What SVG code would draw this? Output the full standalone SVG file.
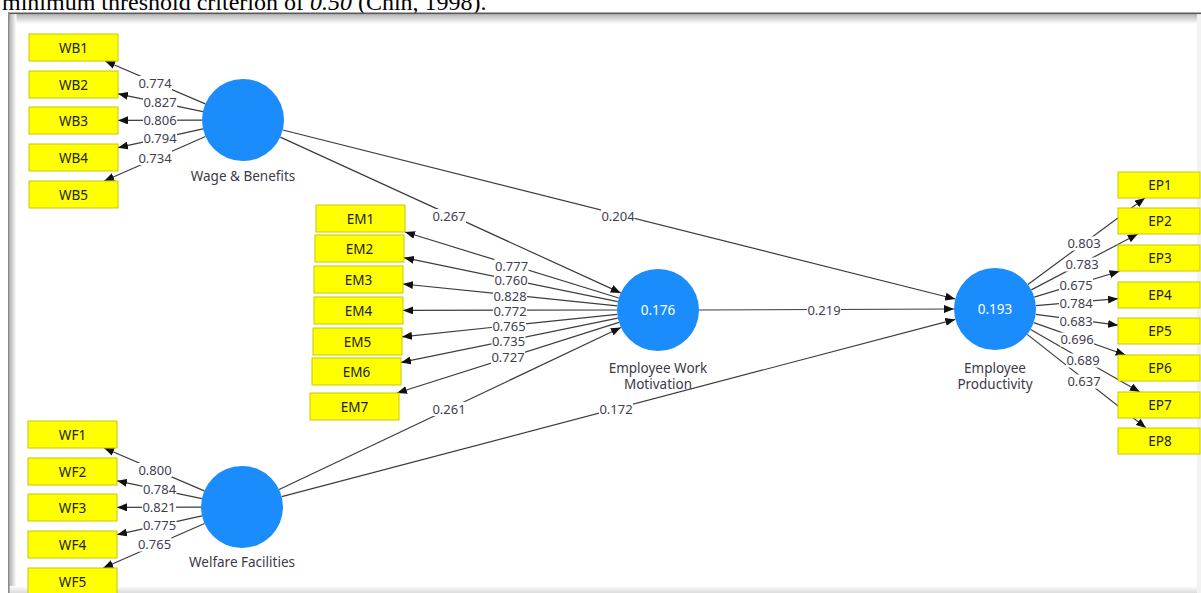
<svg xmlns="http://www.w3.org/2000/svg" width="1201" height="593" viewBox="0 0 1201 593">
  <defs>
    <style>
      .ind rect { fill: #ffff00; stroke: #c8c800; stroke-width: 1; }
      .ind text { font-family: "Noto Sans", "Open Sans", sans-serif; font-size: 13.5px; fill: #222; text-anchor: middle; }
      .lv circle { fill: #1a8cfc; }
      .lv .r2 { font-family: "Noto Sans", "Open Sans", sans-serif; font-size: 13.5px; fill: #ffffff; text-anchor: middle; }
      .lv .name { font-family: "Noto Sans", "Open Sans", sans-serif; font-size: 13.5px; fill: #3a3a48; text-anchor: middle; }
      .edge line { stroke: #3c3c3c; stroke-width: 1.2; marker-end: url(#head); }
      .lbl rect { fill: #ffffff; }
      .lbl text { font-family: "Noto Sans", "Open Sans", sans-serif; font-size: 13px; fill: #3e3e52; text-anchor: middle; }
    </style>
    <marker id="head" viewBox="0 0 10 8" refX="10" refY="4" markerWidth="10" markerHeight="8" markerUnits="userSpaceOnUse" orient="auto">
      <path d="M0,0 L10,4 L0,8 z" fill="#111"/>
    </marker>
    <linearGradient id="shTop" x1="0" y1="0" x2="0" y2="1">
      <stop offset="0" stop-color="#b4b4b4"/>
      <stop offset="1" stop-color="#ffffff"/>
    </linearGradient>
    <linearGradient id="shLeft" x1="0" y1="0" x2="1" y2="0">
      <stop offset="0" stop-color="#b4b4b4"/>
      <stop offset="1" stop-color="#ffffff"/>
    </linearGradient>
    <linearGradient id="shBottom" x1="0" y1="0" x2="0" y2="1">
      <stop offset="0" stop-color="#ffffff"/>
      <stop offset="1" stop-color="#dcdcdc"/>
    </linearGradient>
  </defs>

  <rect x="0" y="0" width="1201" height="593" fill="#ffffff"/>

  <!-- running text of the page above the figure -->
  <text x="2" y="9.5" font-family="Liberation Serif, serif" font-size="24" fill="#000">minimum threshold criterion of <tspan font-style="italic">0.50</tspan> (Chin, 1998).</text>

  <!-- window frame around the model -->
  <g id="frame">
    <rect x="8" y="14" width="1193" height="10" fill="url(#shTop)"/>
    <rect x="9.5" y="14" width="7" height="579" fill="url(#shLeft)"/>
    <rect x="8" y="586" width="1193" height="7" fill="url(#shBottom)"/>
    <rect x="1197" y="14" width="4" height="579" fill="#f2f2f2"/>
    <rect x="8" y="12.5" width="1193" height="1.6" fill="#5a5a5a"/>
    <rect x="8" y="12.5" width="1.6" height="581" fill="#8a8a8a"/>
  </g>

  <!-- connectors: outer loadings and structural paths -->
  <g id="connectors">
    <g class="edge">
      <!-- Wage & Benefits -> WB items -->
      <line x1="205.3" y1="103.9" x2="105.1" y2="61"/>
      <line x1="202.9" y1="111.6" x2="118" y2="93.8"/>
      <line x1="202" y1="120.1" x2="118" y2="120.4"/>
      <line x1="203" y1="128.9" x2="118" y2="147.7"/>
      <line x1="205.5" y1="136.5" x2="104.2" y2="181"/>
      <!-- Welfare Facilities -> WF items -->
      <line x1="204.3" y1="490.9" x2="104.1" y2="448"/>
      <line x1="201.9" y1="498.6" x2="117" y2="480.8"/>
      <line x1="201" y1="507.1" x2="117" y2="507.4"/>
      <line x1="202" y1="515.9" x2="117" y2="534.7"/>
      <line x1="204.5" y1="523.5" x2="103.2" y2="568"/>
      <!-- Employee Work Motivation -> EM items -->
      <line x1="618.8" y1="298" x2="405" y2="232"/>
      <line x1="617.8" y1="301.7" x2="404" y2="257.7"/>
      <line x1="617.2" y1="305.8" x2="403" y2="284"/>
      <line x1="617" y1="310" x2="403" y2="310.4"/>
      <line x1="617.2" y1="314.3" x2="402" y2="336.8"/>
      <line x1="617.8" y1="318.2" x2="401" y2="362.4"/>
      <line x1="618.9" y1="322.4" x2="397" y2="393"/>
      <!-- Employee Productivity -> EP items -->
      <line x1="1027.9" y1="284.6" x2="1144.9" y2="198"/>
      <line x1="1031.3" y1="289.9" x2="1137.8" y2="234"/>
      <line x1="1034.2" y1="297.1" x2="1119.5" y2="271.2"/>
      <line x1="1035.9" y1="305.6" x2="1118" y2="298.7"/>
      <line x1="1035.7" y1="314.3" x2="1118" y2="325.2"/>
      <line x1="1033.7" y1="322.6" x2="1125.6" y2="355"/>
      <line x1="1030.6" y1="329.4" x2="1139.8" y2="392"/>
      <line x1="1027.2" y1="334.4" x2="1146" y2="428"/>
      <!-- structural paths -->
      <line x1="280.3" y1="137.1" x2="620.7" y2="292.9"/>
      <line x1="282.8" y1="130" x2="955.2" y2="299"/>
      <line x1="699" y1="310" x2="954" y2="309"/>
      <line x1="279.1" y1="489.5" x2="620.9" y2="327.5"/>
      <line x1="281.7" y1="496.6" x2="955.3" y2="319.4"/>
    </g>
    <g class="lbl">
      <rect x="138" y="76" width="34" height="14"/><text x="155" y="87.5">0.774</text>
      <rect x="143" y="95.5" width="34" height="14"/><text x="160" y="107">0.827</text>
      <rect x="143" y="113" width="34" height="14"/><text x="160" y="124.5">0.806</text>
      <rect x="143" y="131.5" width="34" height="14"/><text x="160" y="143">0.794</text>
      <rect x="138" y="151" width="34" height="14"/><text x="155" y="162.5">0.734</text>

      <rect x="138" y="463" width="34" height="14"/><text x="155" y="474.5">0.800</text>
      <rect x="142.5" y="482.5" width="34" height="14"/><text x="159.5" y="494">0.784</text>
      <rect x="142" y="500" width="34" height="14"/><text x="159" y="511.5">0.821</text>
      <rect x="142.5" y="518" width="34" height="14"/><text x="159.5" y="529.5">0.775</text>
      <rect x="137.5" y="537.5" width="34" height="14"/><text x="154.5" y="549">0.765</text>

      <rect x="494.5" y="259" width="34" height="14"/><text x="511.5" y="270.5">0.777</text>
      <rect x="494" y="273.5" width="34" height="14"/><text x="511" y="285">0.760</text>
      <rect x="493" y="289" width="34" height="14"/><text x="510" y="300.5">0.828</text>
      <rect x="493" y="304" width="34" height="14"/><text x="510" y="315.5">0.772</text>
      <rect x="492" y="319" width="34" height="14"/><text x="509" y="330.5">0.765</text>
      <rect x="491.5" y="334" width="34" height="14"/><text x="508.5" y="345.5">0.735</text>
      <rect x="491" y="350" width="34" height="14"/><text x="508" y="361.5">0.727</text>

      <rect x="1067" y="236.5" width="34" height="14"/><text x="1084" y="248">0.803</text>
      <rect x="1065" y="257.5" width="34" height="14"/><text x="1082" y="269">0.783</text>
      <rect x="1059" y="278.5" width="34" height="14"/><text x="1076" y="290">0.675</text>
      <rect x="1059" y="296.5" width="34" height="14"/><text x="1076" y="308">0.784</text>
      <rect x="1059" y="314" width="34" height="14"/><text x="1076" y="325.5">0.683</text>
      <rect x="1060" y="332.5" width="34" height="14"/><text x="1077" y="344">0.696</text>
      <rect x="1066" y="353.5" width="34" height="14"/><text x="1083" y="365">0.689</text>
      <rect x="1067" y="374.5" width="34" height="14"/><text x="1084" y="386">0.637</text>

      <rect x="432" y="209" width="34" height="14"/><text x="449" y="220.5">0.267</text>
      <rect x="601" y="209" width="34" height="14"/><text x="618" y="220.5">0.204</text>
      <rect x="807" y="303" width="34" height="14"/><text x="824" y="314.5">0.219</text>
      <rect x="432" y="402" width="34" height="14"/><text x="449" y="413.5">0.261</text>
      <rect x="599" y="402" width="34" height="14"/><text x="616" y="413.5">0.172</text>
    </g>
  </g>

  <!-- latent variables -->
  <g id="wage-benefits" class="lv">
    <circle cx="243" cy="120" r="41"/>
    <text class="name" x="243" y="181">Wage &amp; Benefits</text>
  </g>
  <g id="welfare-facilities" class="lv">
    <circle cx="242" cy="507" r="41"/>
    <text class="name" x="242" y="567">Welfare Facilities</text>
  </g>
  <g id="work-motivation" class="lv">
    <circle cx="658" cy="310" r="41"/>
    <text class="r2" x="658" y="314.5">0.176</text>
    <text class="name" x="658" y="373">Employee Work</text>
    <text class="name" x="658" y="389">Motivation</text>
  </g>
  <g id="productivity" class="lv">
    <circle cx="995" cy="309" r="41"/>
    <text class="r2" x="995" y="313.5">0.193</text>
    <text class="name" x="995" y="373">Employee</text>
    <text class="name" x="995" y="389">Productivity</text>
  </g>

  <!-- indicators: wage & benefits -->
  <g id="WB1" class="ind"><rect x="29" y="34" width="89" height="27"/><text x="73.5" y="52.5">WB1</text></g>
  <g id="WB2" class="ind"><rect x="29" y="71" width="89" height="27"/><text x="73.5" y="89.5">WB2</text></g>
  <g id="WB3" class="ind"><rect x="29" y="107" width="89" height="27"/><text x="73.5" y="125.5">WB3</text></g>
  <g id="WB4" class="ind"><rect x="29" y="144" width="89" height="27"/><text x="73.5" y="162.5">WB4</text></g>
  <g id="WB5" class="ind"><rect x="29" y="181" width="89" height="27"/><text x="73.5" y="199.5">WB5</text></g>

  <!-- indicators: welfare facilities -->
  <g id="WF1" class="ind"><rect x="28" y="421" width="89" height="27"/><text x="72.5" y="439.5">WF1</text></g>
  <g id="WF2" class="ind"><rect x="28" y="458" width="89" height="27"/><text x="72.5" y="476.5">WF2</text></g>
  <g id="WF3" class="ind"><rect x="28" y="494" width="89" height="27"/><text x="72.5" y="512.5">WF3</text></g>
  <g id="WF4" class="ind"><rect x="28" y="531" width="89" height="27"/><text x="72.5" y="549.5">WF4</text></g>
  <g id="WF5" class="ind"><rect x="28" y="568" width="89" height="27"/><text x="72.5" y="586.5">WF5</text></g>

  <!-- indicators: employee work motivation -->
  <g id="EM1" class="ind"><rect x="316" y="205" width="89" height="27"/><text x="360.5" y="223.5">EM1</text></g>
  <g id="EM2" class="ind"><rect x="315" y="235" width="89" height="27"/><text x="359.5" y="253.5">EM2</text></g>
  <g id="EM3" class="ind"><rect x="314" y="266" width="89" height="27"/><text x="358.5" y="284.5">EM3</text></g>
  <g id="EM4" class="ind"><rect x="314" y="297" width="89" height="27"/><text x="358.5" y="315.5">EM4</text></g>
  <g id="EM5" class="ind"><rect x="313" y="328" width="89" height="27"/><text x="357.5" y="346.5">EM5</text></g>
  <g id="EM6" class="ind"><rect x="312" y="358" width="89" height="27"/><text x="356.5" y="376.5">EM6</text></g>
  <g id="EM7" class="ind"><rect x="310" y="393" width="89" height="27"/><text x="354.5" y="411.5">EM7</text></g>

  <!-- indicators: employee productivity -->
  <g id="EP1" class="ind"><rect x="1118" y="172" width="82" height="26"/><text x="1160" y="190">EP1</text></g>
  <g id="EP2" class="ind"><rect x="1118" y="208" width="82" height="26"/><text x="1160" y="226">EP2</text></g>
  <g id="EP3" class="ind"><rect x="1118" y="245" width="82" height="26"/><text x="1160" y="263">EP3</text></g>
  <g id="EP4" class="ind"><rect x="1118" y="282" width="82" height="26"/><text x="1160" y="300">EP4</text></g>
  <g id="EP5" class="ind"><rect x="1118" y="318" width="82" height="26"/><text x="1160" y="336">EP5</text></g>
  <g id="EP6" class="ind"><rect x="1118" y="355" width="82" height="26"/><text x="1160" y="373">EP6</text></g>
  <g id="EP7" class="ind"><rect x="1118" y="392" width="82" height="26"/><text x="1160" y="410">EP7</text></g>
  <g id="EP8" class="ind"><rect x="1118" y="428" width="82" height="26"/><text x="1160" y="446">EP8</text></g>
</svg>
